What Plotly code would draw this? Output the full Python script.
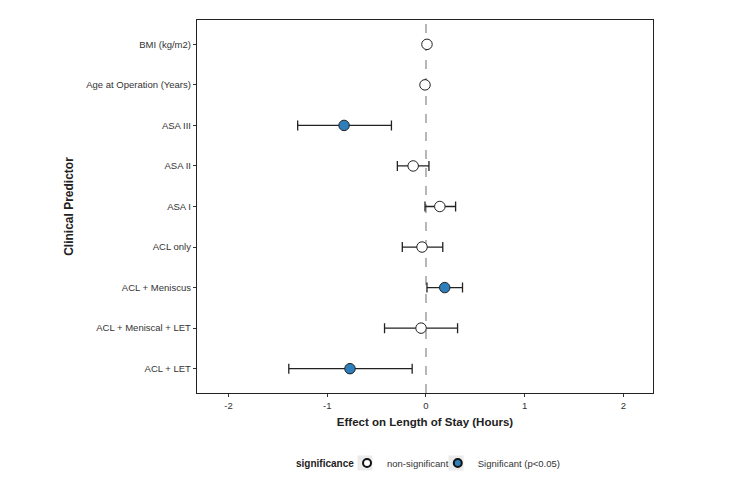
import plotly.graph_objects as go

predictors = ["ACL + LET", "ACL + Meniscal + LET", "ACL + Meniscus", "ACL only",
              "ASA I", "ASA II", "ASA III", "Age at Operation (Years)", "BMI (kg/m2)"]
estimate = [-0.77, -0.05, 0.19, -0.04, 0.14, -0.13, -0.83, -0.01, 0.01]
ci_low = [-1.39, -0.42, 0.01, -0.24, -0.01, -0.29, -1.30, -0.015, 0.005]
ci_high = [-0.14, 0.32, 0.37, 0.17, 0.30, 0.03, -0.35, -0.005, 0.015]
significant = [True, False, True, False, False, False, True, False, False]

fig = go.Figure()

groups = [("non-significant", False, "white", "legend"),
          ("Significant (p<0.05)", True, "#2F7EBC", "legend2")]
for name, flag, color, leg in groups:
    idx = [i for i, s in enumerate(significant) if s == flag]
    xs = [estimate[i] for i in idx]
    ys = [predictors[i] for i in idx]
    plus = [ci_high[i] - estimate[i] for i in idx]
    minus = [estimate[i] - ci_low[i] for i in idx]
    fig.add_trace(go.Scatter(
        x=xs, y=ys, mode="markers", name=name, showlegend=False,
        marker=dict(size=10.5, color=color, line=dict(color="#222222", width=1)),
        error_x=dict(type="data", symmetric=False, array=plus, arrayminus=minus,
                     color="#222222", thickness=1.3, width=5),
    ))
    # legend key entry
    fig.add_trace(go.Scatter(
        x=[None], y=[None], mode="markers", name=name, legend=leg,
        marker=dict(size=8, color=color, line=dict(color="#111111", width=2)),
    ))

fig.add_vline(x=0, line=dict(color="#888888", width=1.2, dash="dash"), layer="below")

# grey legend key backgrounds (ggplot style)
legend_y = -0.1877
for kx in [0.3684, 0.5680]:
    fig.add_shape(type="rect", xref="paper", yref="paper",
                  x0=kx - 0.0165, x1=kx + 0.0165, y0=legend_y - 0.0201, y1=legend_y + 0.0201,
                  fillcolor="#EBEBEB", line=dict(width=0), layer="below")

font_family = "Liberation Sans, Arial, sans-serif"
leg_common = dict(orientation="h", y=legend_y, xanchor="left", yanchor="middle",
                  font=dict(size=9.5, color="#333333"), itemwidth=30,
                  bgcolor="rgba(0,0,0,0)")
fig.update_layout(
    width=750, height=479,
    margin=dict(l=197, r=97, t=20, b=86, autoexpand=False),
    plot_bgcolor="white", paper_bgcolor="white",
    font=dict(family=font_family, size=9.5, color="#333333"),
    xaxis=dict(
        range=[-2.32, 2.30], tickvals=[-2, -1, 0, 1, 2], ticktext=["-2", "-1", "0", "1", "2"],
        showgrid=False, zeroline=False, showline=True, linecolor="#222222", linewidth=1.3,
        mirror=True, ticks="outside", ticklen=3, tickcolor="#333333",
        tickfont=dict(size=9.5, color="#333333"),
        title=dict(text="<b>Effect on Length of Stay (Hours)</b>", font=dict(size=11.5, color="#222222"), standoff=8),
    ),
    yaxis=dict(
        type="category", categoryorder="array", categoryarray=predictors,
        range=[-0.6, 8.6], showgrid=False, zeroline=False, showline=True,
        linecolor="#222222", linewidth=1.3, mirror=True, ticks="outside", ticklen=3,
        tickcolor="#333333", tickfont=dict(size=9.5, color="#333333"),
        title=dict(text="<b>Clinical Predictor</b>", font=dict(size=12, color="#222222"), standoff=10),
    ),
    legend=dict(x=0.329, **leg_common),
    legend2=dict(x=0.528, **leg_common),
    showlegend=True,
    annotations=[dict(text="<b>significance</b>", xref="paper", yref="paper",
                      x=0.2127, y=legend_y, xanchor="left", yanchor="middle", showarrow=False,
                      font=dict(size=10, color="#222222"))],
)

fig.write_html("out.html")
